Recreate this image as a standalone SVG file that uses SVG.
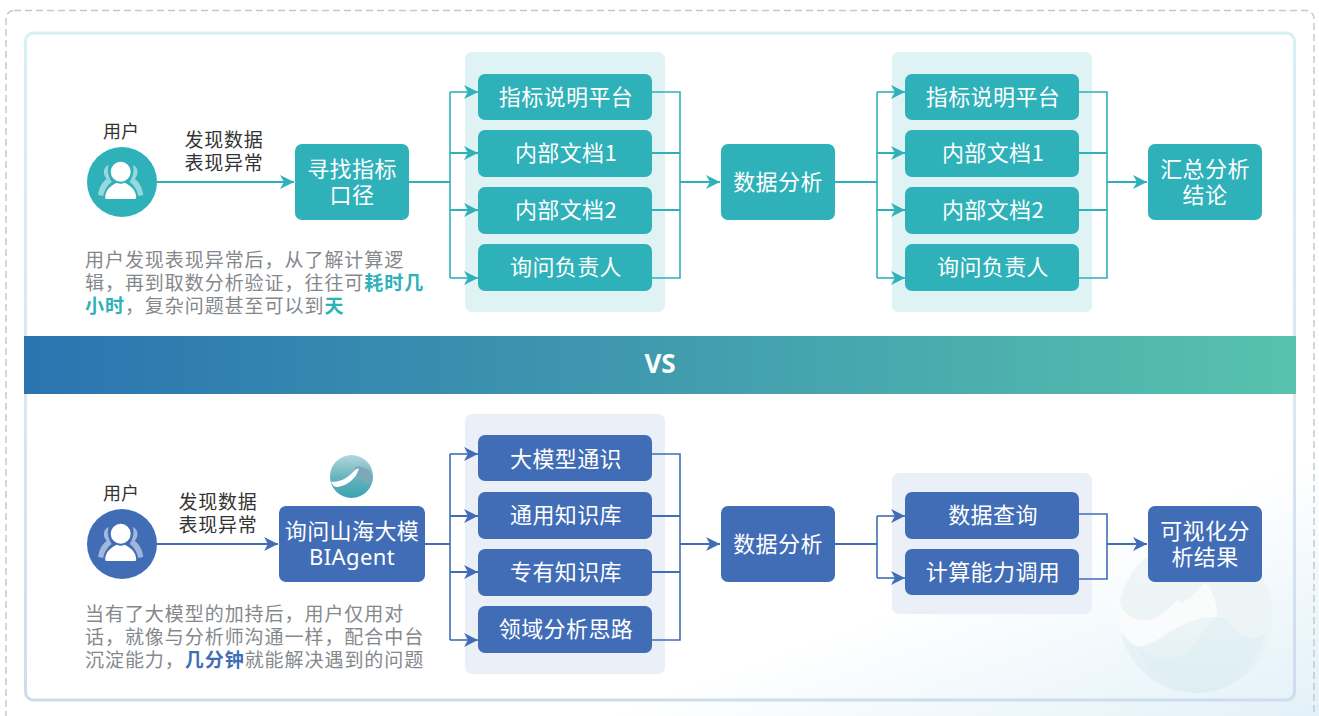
<svg xmlns="http://www.w3.org/2000/svg" width="1319" height="716" viewBox="0 0 1319 716">
<style>
text{font-family:"Noto Sans CJK SC","Noto Sans",sans-serif}
.n{font-size:22px;fill:#fff;text-anchor:middle;letter-spacing:.4px}
.lb{font-size:19px;fill:#333;text-anchor:middle;letter-spacing:.8px}
.u{font-size:18px;fill:#333;text-anchor:middle}
.d{font-size:19px;fill:#85888b;letter-spacing:.95px}
.t{fill:#2fb1ba}.b{fill:#416db6}
.dt{fill:#2fb1ba;font-weight:700}.db{fill:#416db6;font-weight:700}
.pt{fill:#dff2f4}.pb{fill:#ebeff8}
.ct{fill:none;stroke:#2fb1ba;stroke-width:1.6}
.cb{fill:none;stroke:#416db6;stroke-width:1.6}
.th{stroke-width:2}
.at{marker-end:url(#mt)}.ab{marker-end:url(#mb)}
</style>
<defs>
<marker id="mt" markerUnits="userSpaceOnUse" markerWidth="15" markerHeight="15" refX="14" refY="7.500" orient="auto"><path d="M0 .5 L14 7.500 L0 14.500 L4 7.500Z" fill="#2fb1ba"/></marker>
<marker id="mb" markerUnits="userSpaceOnUse" markerWidth="15" markerHeight="15" refX="14" refY="7.500" orient="auto"><path d="M0 .5 L14 7.500 L0 14.500 L4 7.500Z" fill="#416db6"/></marker>
<linearGradient id="bg" gradientUnits="userSpaceOnUse" x1="600" y1="716" x2="682" y2="944"><stop offset="0" stop-color="#fff"/><stop offset="1" stop-color="#e2f1f8"/></linearGradient>
<linearGradient id="frame" x1="0" y1="0" x2="0" y2="1"><stop offset="0" stop-color="#d6f0f2"/><stop offset=".55" stop-color="#dbe6f4"/><stop offset="1" stop-color="#cddcef"/></linearGradient>
<linearGradient id="vs" x1="0" y1="0" x2="1" y2="0"><stop offset="0" stop-color="#2a74b0"/><stop offset="1" stop-color="#57c2ad"/></linearGradient>
<linearGradient id="lg" x1="0" y1="0" x2="0" y2="1"><stop offset="0" stop-color="#b4d6dc"/><stop offset="0.55" stop-color="#62b2bc"/><stop offset="1" stop-color="#37a5ad"/></linearGradient>
<linearGradient id="wm" x1="0" y1="0" x2="0" y2="1"><stop offset="0" stop-color="#f0f6f7"/><stop offset=".55" stop-color="#edf4f6"/><stop offset="1" stop-color="#deeff4"/></linearGradient>
<g id="usr">
<path d="M-12 -17C-18 -15 -18 -7 -14 -3C-19 0 -22 7 -22.500 13L-17.500 14C-16.500 8 -13 3 -9 0C-12 -5 -14 -11 -12 -17ZM12 -17C18 -15 18 -7 14 -3C19 0 22 7 22.500 13L17.500 14C16.500 8 13 3 9 0C12 -5 14 -11 12 -17Z" fill="#fff" fill-opacity=".5"/>
<circle cx="0" cy="-10.300" r="10" fill="#fff"/>
<path d="M-15.500 15.500C-15.500 8 -9 3 -4 .8Q0 2.500 4 .8C9 3 15.500 8 15.500 15.500Q15.500 17 14 17H-14Q-15.500 17 -15.500 15.500Z" fill="#fff"/>
</g>
</defs>
<rect width="1319" height="716" fill="url(#bg)"/>
<rect x="6" y="10.500" width="1308" height="716" rx="8" fill="none" stroke="#c4c6c8" stroke-width="1.400" stroke-dasharray="7 4"/>
<rect x="25.500" y="33" width="1269" height="667" rx="8" fill="url(#bg)" stroke="url(#frame)" stroke-width="3"/>
<g id="watermark">
<circle cx="1196" cy="616" r="77" fill="url(#wm)"/>
<path d="M1119 600C1122 615 1135 621 1147 620C1160 619 1170 608 1177 600L1181 603C1188 601 1198 590 1205 583C1213 590 1217 603 1217 617C1200 616 1186 622 1173 630C1160 638 1148 647 1137 647C1130 643 1122 635 1120 628Q1118 615 1119 600Z" fill="#fff" fill-opacity=".7"/>
<path d="M1137 647C1150 660 1175 664 1190 650C1200 638 1208 622 1217 617C1226 617 1230 626 1237 632C1246 640 1258 640 1265 633C1255 668 1228 693 1196 693C1170 693 1148 672 1137 647Z" fill="#dcedf3" fill-opacity=".5"/>
</g>
<g id="vs-band"><rect x="24" y="336" width="1272" height="58" fill="url(#vs)"/><text x="660" y="373" font-size="26" font-weight="700" fill="#fff" text-anchor="middle" style="font-family:'Noto Sans',sans-serif">VS</text></g>
<g id="panels">
<rect class="pt" x="465" y="52" width="200" height="260" rx="7"/>
<rect class="pt" x="892" y="52" width="200" height="260" rx="7"/>
<rect class="pb" x="465" y="414" width="200" height="260" rx="7"/>
<rect class="pb" x="892" y="473" width="200" height="141" rx="7"/>
</g>
<g id="connectors">
<path class="ct th at" d="M157 182H294"/>
<path class="ct th" d="M409 182H450"/>
<path class="ct" d="M450 92V278"/>
<path class="ct at" d="M450 92H478"/><path class="ct th at" d="M450 153H478"/><path class="ct th at" d="M450 210H478"/><path class="ct at" d="M450 278H478"/>
<path class="ct" d="M652 92H680V278H652"/><path class="ct th" d="M652 153H680M652 210H680"/>
<path class="ct th at" d="M680 182H720"/>
<path class="ct th" d="M835 182H877"/>
<path class="ct" d="M877 92V278"/>
<path class="ct at" d="M877 92H905"/><path class="ct th at" d="M877 153H905"/><path class="ct th at" d="M877 210H905"/><path class="ct at" d="M877 278H905"/>
<path class="ct" d="M1079 92H1107V278H1079"/><path class="ct th" d="M1079 153H1107M1079 210H1107"/>
<path class="ct th at" d="M1107 182H1147"/>
<path class="cb th ab" d="M157 544H278"/>
<path class="cb th" d="M425 544H450"/>
<path class="cb" d="M450 454V640"/>
<path class="cb ab" d="M450 454H478"/><path class="cb th ab" d="M450 516H478"/><path class="cb th ab" d="M450 572H478"/><path class="cb ab" d="M450 640H478"/>
<path class="cb" d="M652 454H680V640H652"/><path class="cb th" d="M652 516H680M652 572H680"/>
<path class="cb th ab" d="M680 544H720"/>
<path class="cb th" d="M835 544H877"/>
<path class="cb" d="M877 516V578"/>
<path class="cb ab" d="M877 516H905"/><path class="cb ab" d="M877 578H905"/>
<path class="cb" d="M1079 514H1107V579H1079"/>
<path class="cb th ab" d="M1107 544H1147"/>
</g>
<g id="user-top"><circle class="t" cx="122" cy="182" r="35"/><use href="#usr" x="120.700" y="182"/><text class="u" x="121" y="138">用户</text></g>
<g id="label-top"><text class="lb" x="224" y="147">发现数据</text><text class="lb" x="224" y="170">表现异常</text></g>
<g id="find"><rect class="t" x="295" y="144" width="114" height="76" rx="7"/><text class="n" x="352" y="177">寻找指标</text><text class="n" x="352" y="203">口径</text></g>
<g id="a1"><rect class="t" x="478" y="74" width="174" height="46" rx="7"/><text class="n" x="566" y="105">指标说明平台</text></g>
<g id="a2"><rect class="t" x="478" y="130" width="174" height="47" rx="7"/><text class="n" x="566" y="161">内部文档1</text></g>
<g id="a3"><rect class="t" x="478" y="187" width="174" height="47" rx="7"/><text class="n" x="566" y="218">内部文档2</text></g>
<g id="a4"><rect class="t" x="478" y="244" width="174" height="47" rx="7"/><text class="n" x="566" y="275">询问负责人</text></g>
<g id="data-top"><rect class="t" x="721" y="144" width="114" height="76" rx="7"/><text class="n" x="778" y="190">数据分析</text></g>
<g id="b1"><rect class="t" x="905" y="74" width="174" height="46" rx="7"/><text class="n" x="993" y="105">指标说明平台</text></g>
<g id="b2"><rect class="t" x="905" y="130" width="174" height="47" rx="7"/><text class="n" x="993" y="161">内部文档1</text></g>
<g id="b3"><rect class="t" x="905" y="187" width="174" height="47" rx="7"/><text class="n" x="993" y="218">内部文档2</text></g>
<g id="b4"><rect class="t" x="905" y="244" width="174" height="47" rx="7"/><text class="n" x="993" y="275">询问负责人</text></g>
<g id="sum"><rect class="t" x="1148" y="144" width="114" height="76" rx="7"/><text class="n" x="1205" y="177">汇总分析</text><text class="n" x="1205" y="203">结论</text></g>
<g id="desc-top">
<text class="d" x="85" y="267">用户发现表现异常后，从了解计算逻</text>
<text class="d" x="85" y="290">辑，再到取数分析验证，往往可<tspan class="dt">耗时几</tspan></text>
<text class="d" x="85" y="313"><tspan class="dt">小时</tspan>，复杂问题甚至可以到<tspan class="dt">天</tspan></text>
</g>
<g id="user-bottom"><circle class="b" cx="122" cy="544" r="35"/><use href="#usr" x="120.700" y="544"/><text class="u" x="121" y="500">用户</text></g>
<g id="label-bottom"><text class="lb" x="218" y="509">发现数据</text><text class="lb" x="218" y="532">表现异常</text></g>
<g id="logo"><circle cx="351.500" cy="476.500" r="21.500" fill="url(#lg)"/>
<path d="M355 467C362 465 370 469 372 476C372.500 480 371 483 369 484C362 482 355 475 355 467Z" fill="#7da6b8"/>
<path d="M331 481.500C340 483 349 477 355 470C358 467.500 360 468 358 471C356 478 348 485 338 487C335 487.500 332 485 331 481.500Z" fill="#fff"/></g>
<g id="ask"><rect class="b" x="279" y="506" width="146" height="76" rx="7"/><text class="n" x="352" y="539">询问山海大模</text><text class="n" x="352" y="565" style="font-family:'Noto Sans',sans-serif">BIAgent</text></g>
<g id="c1"><rect class="b" x="478" y="435" width="174" height="46" rx="7"/><text class="n" x="566" y="467">大模型通识</text></g>
<g id="c2"><rect class="b" x="478" y="492" width="174" height="47" rx="7"/><text class="n" x="566" y="523">通用知识库</text></g>
<g id="c3"><rect class="b" x="478" y="549" width="174" height="47" rx="7"/><text class="n" x="566" y="580">专有知识库</text></g>
<g id="c4"><rect class="b" x="478" y="606" width="174" height="47" rx="7"/><text class="n" x="566" y="637">领域分析思路</text></g>
<g id="data-bottom"><rect class="b" x="721" y="506" width="114" height="76" rx="7"/><text class="n" x="778" y="552">数据分析</text></g>
<g id="d1"><rect class="b" x="905" y="492" width="174" height="47" rx="7"/><text class="n" x="993" y="523">数据查询</text></g>
<g id="d2"><rect class="b" x="905" y="549" width="174" height="46" rx="7"/><text class="n" x="993" y="580">计算能力调用</text></g>
<g id="result"><rect class="b" x="1148" y="506" width="114" height="76" rx="7"/><text class="n" x="1205" y="539">可视化分</text><text class="n" x="1205" y="565">析结果</text></g>
<g id="desc-bottom">
<text class="d" x="85" y="621">当有了大模型的加持后，用户仅用对</text>
<text class="d" x="85" y="644">话，就像与分析师沟通一样，配合中台</text>
<text class="d" x="85" y="667">沉淀能力，<tspan class="db">几分钟</tspan>就能解决遇到的问题</text>
</g>
</svg>
